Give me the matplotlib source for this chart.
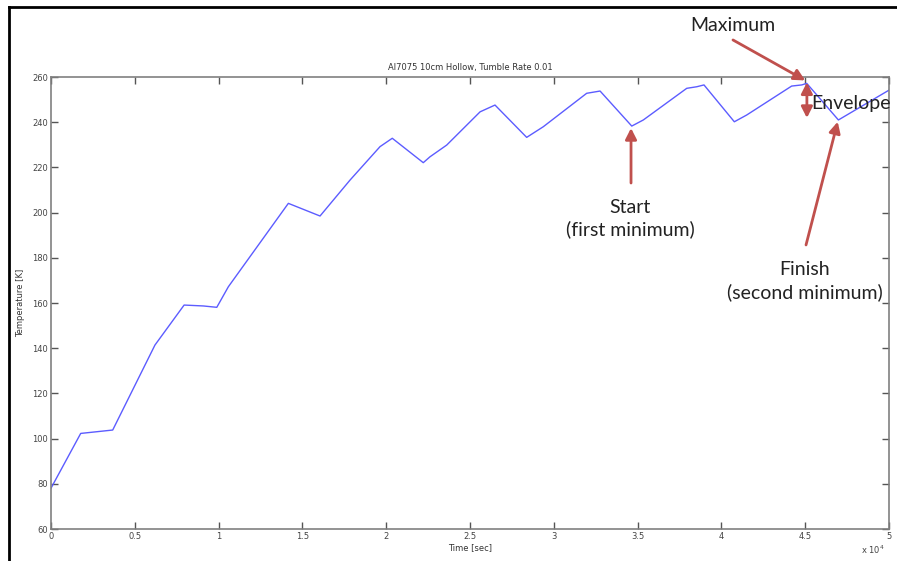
import matplotlib
matplotlib.use("Agg")
import matplotlib.pyplot as plt
from matplotlib.lines import Line2D
from matplotlib.ticker import FuncFormatter

# temperature history, time in seconds
time_s = [0, 1770, 3680, 6200, 7940, 9090, 9890, 10580, 11870, 14160, 16050,
          17840, 19630, 20360, 22210, 22610, 23610, 25600, 26490, 28380, 29370,
          31960, 32760, 34650, 35340, 37930, 38530, 38960, 40770, 41510, 44190,
          44790, 45090, 46980, 50000]
temp_k = [78.1, 102.3, 103.8, 141.4, 159.1, 158.7, 158.1, 167.2, 180.5, 204.1, 198.5,
          214.4, 229.2, 232.9, 222.1, 224.7, 229.9, 244.6, 247.6, 233.3, 238.0,
          252.8, 253.8, 238.3, 241.0, 255.0, 255.7, 256.5, 240.2, 243.2, 256.0,
          256.5, 257.2, 241.0, 254.2]

title = "Al7075 10cm Hollow, Tumble Rate 0.01"
x_label = "Time [sec]"
y_label = "Temperature [K]"
x_ticks = [0, 5000, 10000, 15000, 20000, 25000, 30000, 35000, 40000, 45000, 50000]
y_ticks = [60, 80, 100, 120, 140, 160, 180, 200, 220, 240, 260]

arrow_red = "#c0504d"
note_font = ["Lato", "DejaVu Sans"]
head = "head_length=0.55,head_width=0.28"

fig = plt.figure(figsize=(8.97, 5.61), dpi=100)
ax = fig.add_axes([0.0569, 0.0570, 0.9342, 0.8057])

ax.plot(time_s, temp_k, color="#5c5cff", lw=1.0)

ax.set_xlim(0, 50000)
ax.set_ylim(60, 260)
ax.set_xticks(x_ticks)
ax.set_yticks(y_ticks)
ax.xaxis.set_major_formatter(FuncFormatter(lambda v, p: f"{v / 1e4:g}"))
ax.tick_params(direction="in", length=5, width=1, color="#555555",
               labelsize=6, labelcolor="#444444", top=True, right=True, pad=2)
for s in ax.spines.values():
    s.set_color("#808080")
    s.set_linewidth(1.2)
ax.text(0.995, -0.033, r"x 10$^{4}$", transform=ax.transAxes, fontsize=6,
        color="#444444", ha="right", va="top")

ax.set_title(title, fontsize=6, color="#333333", pad=5)
ax.set_xlabel(x_label, fontsize=6, color="#333333", labelpad=2)
ax.set_ylabel(y_label, fontsize=6, color="#333333", labelpad=5)

# callouts
arr = dict(arrowstyle="-|>," + head, color=arrow_red,
           lw=2, mutation_scale=12, shrinkA=0, shrinkB=0)
ax.annotate("", xy=(45000, 258.5), xytext=(40690, 276.4),
            arrowprops=arr, annotation_clip=False)
ax.text(40690, 282.6, "Maximum", fontsize=14, family=note_font,
        color="#222222", ha="center", va="center", clip_on=False)

ax.annotate("", xy=(45100, 241.9), xytext=(45100, 257.6),
            arrowprops=dict(arr, arrowstyle="<|-|>," + head),
            annotation_clip=False)
ax.text(45346, 248.5, "Envelope", fontsize=14, family=note_font,
        color="#222222", ha="left", va="center", clip_on=False)

ax.annotate("", xy=(34606, 237.4), xytext=(34606, 213.1),
            arrowprops=arr, annotation_clip=False)
ax.text(34550, 197.4, "Start\n(first minimum)", fontsize=14, family=note_font,
        color="#222222", ha="center", va="center", multialignment="center",
        linespacing=1.3)

ax.annotate("", xy=(46939, 240.2), xytext=(45048, 185.7),
            arrowprops=arr, annotation_clip=False)
ax.text(44988, 169.7, "Finish\n(second minimum)", fontsize=14, family=note_font,
        color="#222222", ha="center", va="center", multialignment="center",
        linespacing=1.3, clip_on=False)

# frame lines along the top and left edge
fig.add_artist(Line2D([9 / 897, 1], [1 - 7 / 561, 1 - 7 / 561],
                      transform=fig.transFigure, color="black", lw=2))
fig.add_artist(Line2D([9 / 897, 9 / 897], [0, 1 - 7 / 561],
                      transform=fig.transFigure, color="black", lw=2))

fig.savefig("out.png", dpi=100)
